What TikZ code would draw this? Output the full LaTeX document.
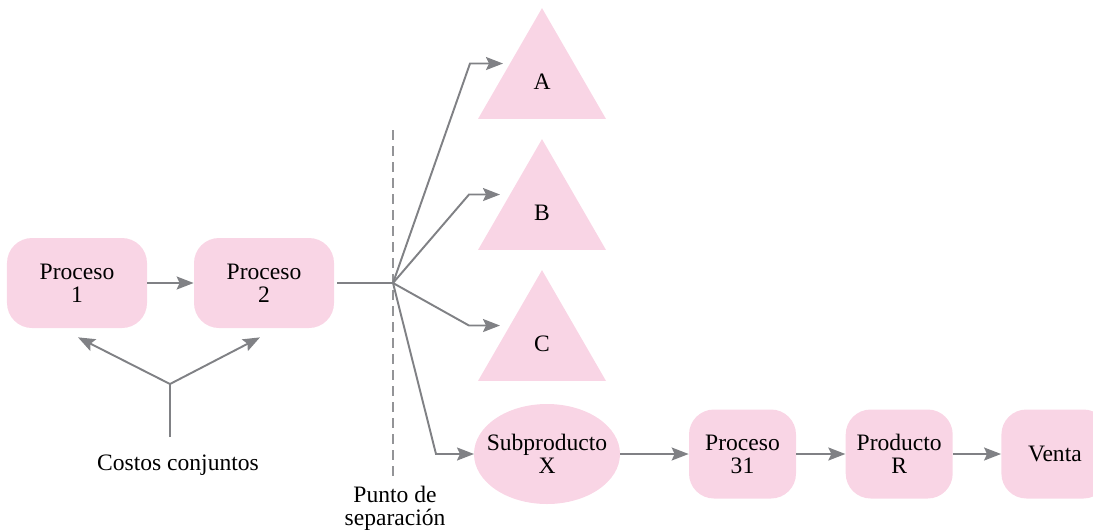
\documentclass[tikz,border=0pt]{standalone}
\usepackage{fontspec}
\setmainfont{Liberation Serif}
\usepackage{tikz}
\usetikzlibrary{arrows.meta,positioning,calc,shapes.geometric}

\definecolor{pinkfill}{RGB}{249,213,229}
\definecolor{flowgray}{RGB}{128,129,133}

\begin{document}
\begin{tikzpicture}[
    % --- Node styles ---
    every node/.style={font=\rmfamily\fontsize{13.4}{13.1}\selectfont, align=center},
    procbox/.style={fill=pinkfill, rounded corners=0.5cm, inner sep=0pt,
      minimum width=2.14cm, minimum height=1.78cm},
    bigbox/.style={procbox, minimum width=2.8cm, minimum height=1.8cm},
    prodtri/.style={fill=pinkfill, regular polygon, regular polygon sides=3,
      minimum size=2.956cm, inner sep=0pt, outer sep=0pt},
    subell/.style={fill=pinkfill, ellipse, minimum width=2.92cm,
      minimum height=2.0cm, inner xsep=-0.2cm, inner ysep=0pt, outer sep=0pt},
    caption/.style={inner sep=0pt},
    % --- Connector styles ---
    flow/.style={draw=flowgray, line width=1.1pt},
    arr/.style={flow, -{Stealth[length=0.34cm, width=0.26cm, inset=0.06cm]}},
    cut/.style={draw=flowgray!85, line width=0.6pt, dash pattern=on 0.2cm off 0.12cm},
]
\path[use as bounding box, clip] (0,0) rectangle (21.86,10.58);

% === Joint processes ===
\node[bigbox] (p1) at (1.54,4.92) {Proceso\\1};
\node[bigbox] (p2) at (5.28,4.92) {Proceso\\2};
\draw[arr] (p1) -- (p2);

% === Joint costs ===
\coordinate (cj) at (3.40,2.90);
\coordinate (cjfoot) at (3.40,1.84);
\node[caption, anchor=base] (costos) at (3.56,1.18) {Costos conjuntos};
\draw[flow] (cjfoot) -- (cj);
\draw[arr] (cj) -- ([shift={(0.02,-0.18)}]p1.south);
\draw[arr] (cj) -- ([shift={(-0.08,-0.18)}]p2.south);

% === Split-off point ===
\coordinate (split) at (7.86,4.92);
\draw[cut] (7.86,7.98) coordinate (cuttop) -- (7.86,1.04) coordinate (cutbot);
\node[caption, anchor=north] (punto) at ($(cutbot)+(0.04,-0.18)$) {Punto de\\separación};
\draw[flow] (p2.east) ++(0.06,0) -- (split);

% === Joint products ===
\node[prodtri] (A) at (10.84,8.94) {A};
\node[prodtri] (B) at (10.84,6.32) {B};
\node[prodtri] (C) at (10.84,3.70) {C};
\node[subell] (X) at (10.94,1.50) {Subproducto\\X};

\draw[arr, shorten >=0.14cm] (split) -- ([xshift=-0.8cm]A.side 1) -- (A.side 1);
\draw[arr, shorten >=0.2cm] (split) -- ([xshift=-0.82cm]B.side 1) -- (B.side 1);
\draw[arr, shorten >=0.2cm] (split) -- ([xshift=-0.82cm]C.side 1) -- (C.side 1);
\draw[arr] (split) -- ([xshift=-0.76cm]X.west) -- (X.west);

% === Further processing of the by-product ===
\node[procbox] (p31) at (14.85,1.50) {Proceso\\31};
\node[procbox, right=0.98cm of p31] (prodR) {Producto\\R};
\node[procbox, right=0.96cm of prodR] (venta) {Venta};
\draw[arr] (X) -- (p31);
\draw[arr] (p31) -- (prodR);
\draw[arr] (prodR) -- (venta);

\end{tikzpicture}
\end{document}
